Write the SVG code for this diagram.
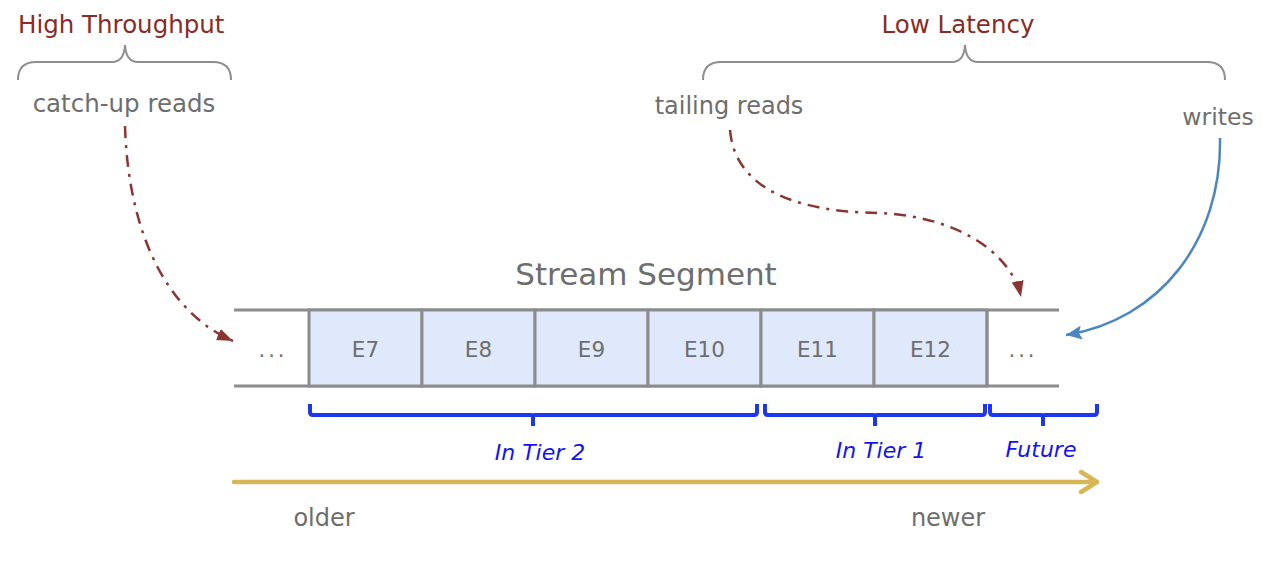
<svg xmlns="http://www.w3.org/2000/svg" width="1272" height="583" viewBox="0 0 1272 583">
<style>
.gray{font-family:"DejaVu Sans",Verdana,sans-serif;fill:#6e6e6e;}
.red{font-family:"DejaVu Sans",Verdana,sans-serif;fill:#8b2b25;font-size:24.5px;}
.blue{font-family:"DejaVu Sans",Verdana,sans-serif;fill:#1414ee;font-style:italic;font-size:22px;}
.cell{fill:#dfe9fb;stroke:#8c8c8c;stroke-width:3;}
.rail{stroke:#8c8c8c;stroke-width:3;fill:none;}
.gbrace{fill:none;stroke:#8e8e8e;stroke-width:2;}
.bbrace{fill:none;stroke:#1d36f0;stroke-width:4;stroke-linejoin:round;}
.read{fill:none;stroke:#8b3530;stroke-width:2.5;stroke-dasharray:12 7 3 7;}
.write{fill:none;stroke:#4a86c0;stroke-width:2.5;}
.dots{letter-spacing:3px;}
</style>
<defs>
<marker id="ar" markerUnits="userSpaceOnUse" viewBox="0 0 16 12" refX="16" refY="6" markerWidth="16" markerHeight="12" orient="auto"><path d="M0,0 L16,6 L0,12 z" fill="#8b3530"/></marker>
<marker id="ab" markerUnits="userSpaceOnUse" viewBox="0 0 16 14" refX="16" refY="7" markerWidth="16" markerHeight="14" orient="auto"><path d="M0,0 L16,7 L0,14 L3,7 z" fill="#4a86c0"/></marker>
</defs>

<g id="titles">
<text class="red" x="18" y="33">High Throughput</text>
<path class="gbrace" d="M18,80 Q18,62 36,62 L112,62 Q124,62 125,45 Q126,62 138,62 L213,62 Q231,62 231,80"/>
<text class="gray" x="124" y="112" font-size="24.5" text-anchor="middle">catch-up reads</text>
<text class="red" x="958" y="33" text-anchor="middle">Low Latency</text>
<path class="gbrace" d="M703,80 Q703,62 721,62 L952,62 Q964,62 965,45 Q966,62 978,62 L1207,62 Q1225,62 1225,80"/>
<text class="gray" x="729" y="114" font-size="24" text-anchor="middle">tailing reads</text>
<text class="gray" x="1218" y="125" font-size="23.5" text-anchor="middle">writes</text>
</g>

<g id="segment">
<text class="gray" x="646" y="285" font-size="31" text-anchor="middle">Stream Segment</text>
<line class="rail" x1="234" y1="310" x2="1059" y2="310"/>
<line class="rail" x1="234" y1="386" x2="1059" y2="386"/>
<text class="gray dots" x="273" y="357" font-size="21" text-anchor="middle">...</text>
<text class="gray dots" x="1023" y="357" font-size="21" text-anchor="middle">...</text>
</g>
<g id="e7"><rect class="cell" x="309" y="310" width="113" height="76"/><text class="gray" x="365.5" y="357" font-size="21.5" text-anchor="middle">E7</text></g>
<g id="e8"><rect class="cell" x="422" y="310" width="113" height="76"/><text class="gray" x="478.5" y="357" font-size="21.5" text-anchor="middle">E8</text></g>
<g id="e9"><rect class="cell" x="535" y="310" width="113" height="76"/><text class="gray" x="591.5" y="357" font-size="21.5" text-anchor="middle">E9</text></g>
<g id="e10"><rect class="cell" x="648" y="310" width="113" height="76"/><text class="gray" x="704.5" y="357" font-size="21.5" text-anchor="middle">E10</text></g>
<g id="e11"><rect class="cell" x="761" y="310" width="113" height="76"/><text class="gray" x="817.5" y="357" font-size="21.5" text-anchor="middle">E11</text></g>
<g id="e12"><rect class="cell" x="874" y="310" width="113" height="76"/><text class="gray" x="930.5" y="357" font-size="21.5" text-anchor="middle">E12</text></g>
<line class="rail" x1="987" y1="310" x2="987" y2="386"/>

<g id="tiers">
<path class="bbrace" d="M310,404 L310,412 Q310,415 313,415 L531,415 Q533,415 533,418 L533,426 M533,418 Q533,415 535,415 L754,415 Q757,415 757,412 L757,404"/>
<text class="blue" x="540" y="460" text-anchor="middle">In Tier 2</text>
<path class="bbrace" d="M765,404 L765,412 Q765,415 768,415 L873,415 Q875,415 875,418 L875,426 M875,418 Q875,415 877,415 L982,415 Q985,415 985,412 L985,404"/>
<text class="blue" x="881" y="458" text-anchor="middle">In Tier 1</text>
<path class="bbrace" d="M990,404 L990,412 Q990,415 993,415 L1041,415 Q1043,415 1043,418 L1043,426 M1043,418 Q1043,415 1045,415 L1094,415 Q1097,415 1097,412 L1097,404"/>
<text class="blue" x="1041" y="457" text-anchor="middle">Future</text>
</g>

<g id="timeline">
<line x1="234" y1="482" x2="1095" y2="482" stroke="#d6b656" stroke-width="4.5" stroke-linecap="round"/>
<path d="M1081,472 L1097,482 L1081,492" fill="none" stroke="#d6b656" stroke-width="4.5" stroke-linecap="round" stroke-linejoin="round"/>
<text class="gray" x="324" y="526" font-size="24" text-anchor="middle">older</text>
<text class="gray" x="948" y="526" font-size="24" text-anchor="middle">newer</text>
</g>

<g id="connectors">
<path class="read" d="M125,126 C128,225 162,310 233,341" marker-end="url(#ar)"/>
<path class="read" d="M730,130 C736,200 820,212 878,213 C960,216 1012,255 1021,297" marker-end="url(#ar)"/>
<path class="write" d="M1220,138 C1222,240 1160,320 1066,335" marker-end="url(#ab)"/>
</g>
</svg>
